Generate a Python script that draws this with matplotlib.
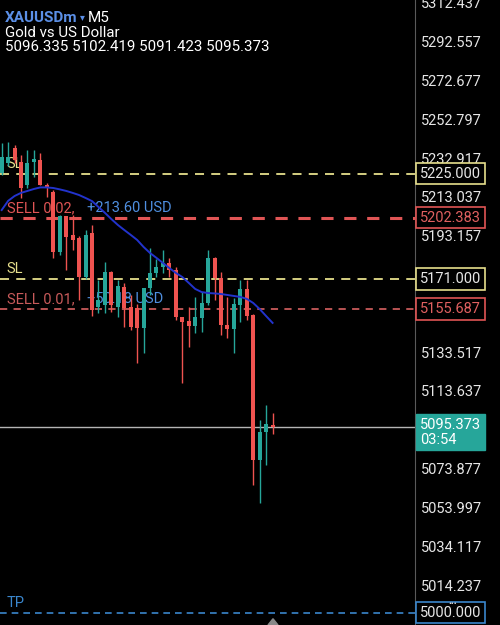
import matplotlib.pyplot as plt
from matplotlib.patches import Polygon

plt.rcParams['font.family'] = ['Roboto', 'DejaVu Sans']

# OHLC of the M5 candles
opens = [5225.3, 5230.4, 5238.1, 5230.9, 5219.2, 5230.9, 5232.0, 5219.2, 5215.6, 5184.8,
         5203.3, 5193.6, 5192.0, 5172.0, 5194.6, 5156.7, 5157.7, 5174.6, 5156.7, 5166.9,
         5156.7, 5156.2, 5145.9, 5166.4, 5174.1, 5177.1, 5179.2, 5175.6, 5151.5, 5149.5,
         5146.9, 5151.0, 5158.7, 5181.8, 5171.5, 5147.4, 5145.4, 5157.7, 5165.9, 5152.6,
         5078.3, 5092.6, 5096.335]
highs = [5240.7, 5241.2, 5239.7, 5234.5, 5237.1, 5237.1, 5235.6, 5220.2, 5216.6, 5203.8,
         5203.5, 5203.8, 5193.0, 5196.1, 5198.7, 5170.5, 5179.7, 5175.0, 5170.5, 5169.0,
         5162.8, 5158.0, 5166.4, 5186.9, 5181.0, 5185.9, 5181.8, 5177.0, 5151.5, 5156.7,
         5161.8, 5164.3, 5185.9, 5182.0, 5174.6, 5161.8, 5161.3, 5170.5, 5170.5, 5153.0,
         5098.8, 5106.5, 5102.419]
lows = [5224.3, 5229.0, 5230.5, 5212.5, 5217.6, 5223.3, 5219.0, 5213.0, 5181.8, 5183.3,
        5175.6, 5185.9, 5160.2, 5171.0, 5152.0, 5153.6, 5153.6, 5154.0, 5151.5, 5146.4,
        5145.0, 5128.0, 5133.1, 5162.8, 5172.0, 5174.1, 5172.0, 5150.0, 5117.7, 5136.2,
        5143.3, 5143.9, 5157.7, 5160.2, 5142.3, 5140.8, 5133.1, 5149.0, 5150.0, 5065.5,
        5056.2, 5075.7, 5091.423]
closes = [5233.5, 5233.5, 5232.0, 5217.6, 5230.4, 5232.5, 5219.2, 5217.6, 5184.8, 5203.3,
          5192.5, 5191.0, 5172.0, 5193.6, 5155.0, 5160.2, 5174.6, 5157.7, 5167.4, 5156.2,
          5146.4, 5145.9, 5166.4, 5174.1, 5177.1, 5179.2, 5175.6, 5151.5, 5149.0, 5146.9,
          5151.5, 5158.7, 5181.8, 5171.5, 5147.4, 5145.4, 5158.2, 5165.9, 5152.0, 5078.3,
          5092.6, 5096.7, 5095.373]
# moving average line
ma = [5206.3, 5211.0, 5213.5, 5215.1, 5216.1, 5217.1, 5217.9, 5217.9, 5217.6, 5216.9,
      5216.1, 5215.1, 5214.0, 5212.5, 5210.9, 5207.9, 5204.9, 5201.7, 5198.7, 5196.1,
      5193.6, 5191.0, 5187.4, 5184.3, 5181.8, 5179.2, 5176.6, 5174.1, 5172.0, 5169.0,
      5165.9, 5164.3, 5163.8, 5163.6, 5163.3, 5162.8, 5162.3, 5161.8, 5160.8, 5158.7,
      5155.6, 5152.0, 5148.5]

ticks = [5312.437, 5292.557, 5272.677, 5252.797, 5232.917, 5213.037, 5193.157,
         5133.517, 5113.637, 5073.877, 5053.997, 5034.117, 5014.237]

sl_levels = [5225.000, 5171.000]
sell_levels = [5202.383, 5155.687]
sell_labels = ['SELL 0.02,', 'SELL 0.01,']
profit_labels = ['+213.60 USD', '+50.18 USD']
tp_level = 5000.000
bid = 5095.373
timer = '03:54'

UP = '#26a69a'
DOWN = '#ef5350'
YEL = '#e6df8c'
RED = '#e05555'
BLUE = '#3a86cc'
TXT = '#e6e6e6'

fig = plt.figure(figsize=(5, 6.25), dpi=100, facecolor='black')
ax = fig.add_axes([0, 0, 0.83, 1])
ax.set_facecolor('black')
ax.set_xlim(-0.26, 64.08)
ax.set_ylim(4993.75, 5313.9)

# candles
for i in range(len(opens)):
    o, h, l, c = opens[i], highs[i], lows[i], closes[i]
    col = UP if c >= o else DOWN
    ax.vlines(i, l, h, color=col, lw=1, zorder=3)
    ax.bar(i, max(abs(c - o), 0.8), bottom=min(o, c), width=0.62, color=col, zorder=3)

ax.plot(range(len(ma)), ma, color='#2233cc', lw=1.4, zorder=4)

trans = ax.get_yaxis_transform()
for lv in sl_levels:
    ax.axhline(lv, color=YEL, lw=1.3, dashes=(5, 4), zorder=2)
    ax.annotate('SL', xy=(0.016, lv), xycoords=trans, xytext=(0, 2),
                textcoords='offset points', color=YEL, fontsize=10.5, va='bottom', zorder=2)
for lv, lab, prof, lw, col in zip(sell_levels, sell_labels, profit_labels, [2.2, 1.3], [RED, '#c85a5a']):
    ax.axhline(lv, color=col, lw=lw, dashes=(4, 3.5), zorder=2)
    ax.annotate(lab, xy=(0.016, lv), xycoords=trans, xytext=(0, 2),
                textcoords='offset points', color=col, fontsize=10.5, va='bottom', zorder=2)
    ax.annotate(prof, xy=(0.21, lv), xycoords=trans, xytext=(0, 2),
                textcoords='offset points', color='#4f8fe0', fontsize=10.5, va='bottom', zorder=2)
ax.axhline(tp_level, color=BLUE, lw=1.2, dashes=(4, 3), zorder=2)
ax.annotate('TP', xy=(0.016, tp_level), xycoords=trans, xytext=(0, 2),
            textcoords='offset points', color=BLUE, fontsize=10.5, va='bottom', zorder=2)
ax.axhline(bid, color='#b5b5b5', lw=1, zorder=2.5)

# right price scale
for s in ['top', 'left', 'bottom']:
    ax.spines[s].set_visible(False)
ax.spines['right'].set_color('#5a5a5a')
ax.set_xticks([])
ax.yaxis.tick_right()
ax.set_yticks(ticks)
ax.set_yticklabels([f'{t:.3f}' for t in ticks])
ax.tick_params(axis='y', length=0, pad=4, labelcolor=TXT, labelsize=10.5)

def price_box(lv, text, edge, tc, face='black'):
    ax.text(1.012, lv, text, transform=trans, color=tc, fontsize=10.5, va='center', ha='left',
            bbox=dict(boxstyle='square,pad=0.25', fc=face, ec=edge, lw=1.2), clip_on=False, zorder=6)

for lv in sl_levels:
    price_box(lv, f'{lv:.3f}', YEL, TXT)
for lv in sell_levels:
    price_box(lv, f'{lv:.3f}', RED, '#e06060')
price_box(tp_level, f'{tp_level:.3f}', BLUE, TXT)
ax.annotate(f'{bid:.3f}\n{timer}', xy=(1.012, bid), xycoords=trans, xytext=(0, 6.5),
            textcoords='offset points', color='white', fontsize=10.5,
            va='top', ha='left', linespacing=1.1,
            bbox=dict(boxstyle='square,pad=0.25', fc=UP, ec=UP), annotation_clip=False, zorder=6)
fig.text(0.905, 0.034, '•••', color=TXT, fontsize=6, ha='center', va='center')

# header
fig.text(0.01, 0.972, 'XAUUSDm', color='#5b8fe6', fontsize=11, fontweight='bold', va='center')
fig.text(0.16, 0.972, '▾', color='#5b8fe6', fontsize=7, va='center')
fig.text(0.176, 0.972, 'M5', color='white', fontsize=11, va='center')
fig.text(0.01, 0.947, 'Gold vs US Dollar', color='white', fontsize=10.8, va='center')
fig.text(0.01, 0.925, f'{opens[-1]:.3f} {highs[-1]:.3f} {lows[-1]:.3f} {closes[-1]:.3f}',
         color='white', fontsize=10.8, va='center')

fig.add_artist(Polygon([[0.536, 0.0], [0.556, 0.0], [0.546, 0.01]], closed=True,
                       transform=fig.transFigure, color='#888888'))

fig.savefig('out.png', dpi=100, facecolor='black')
